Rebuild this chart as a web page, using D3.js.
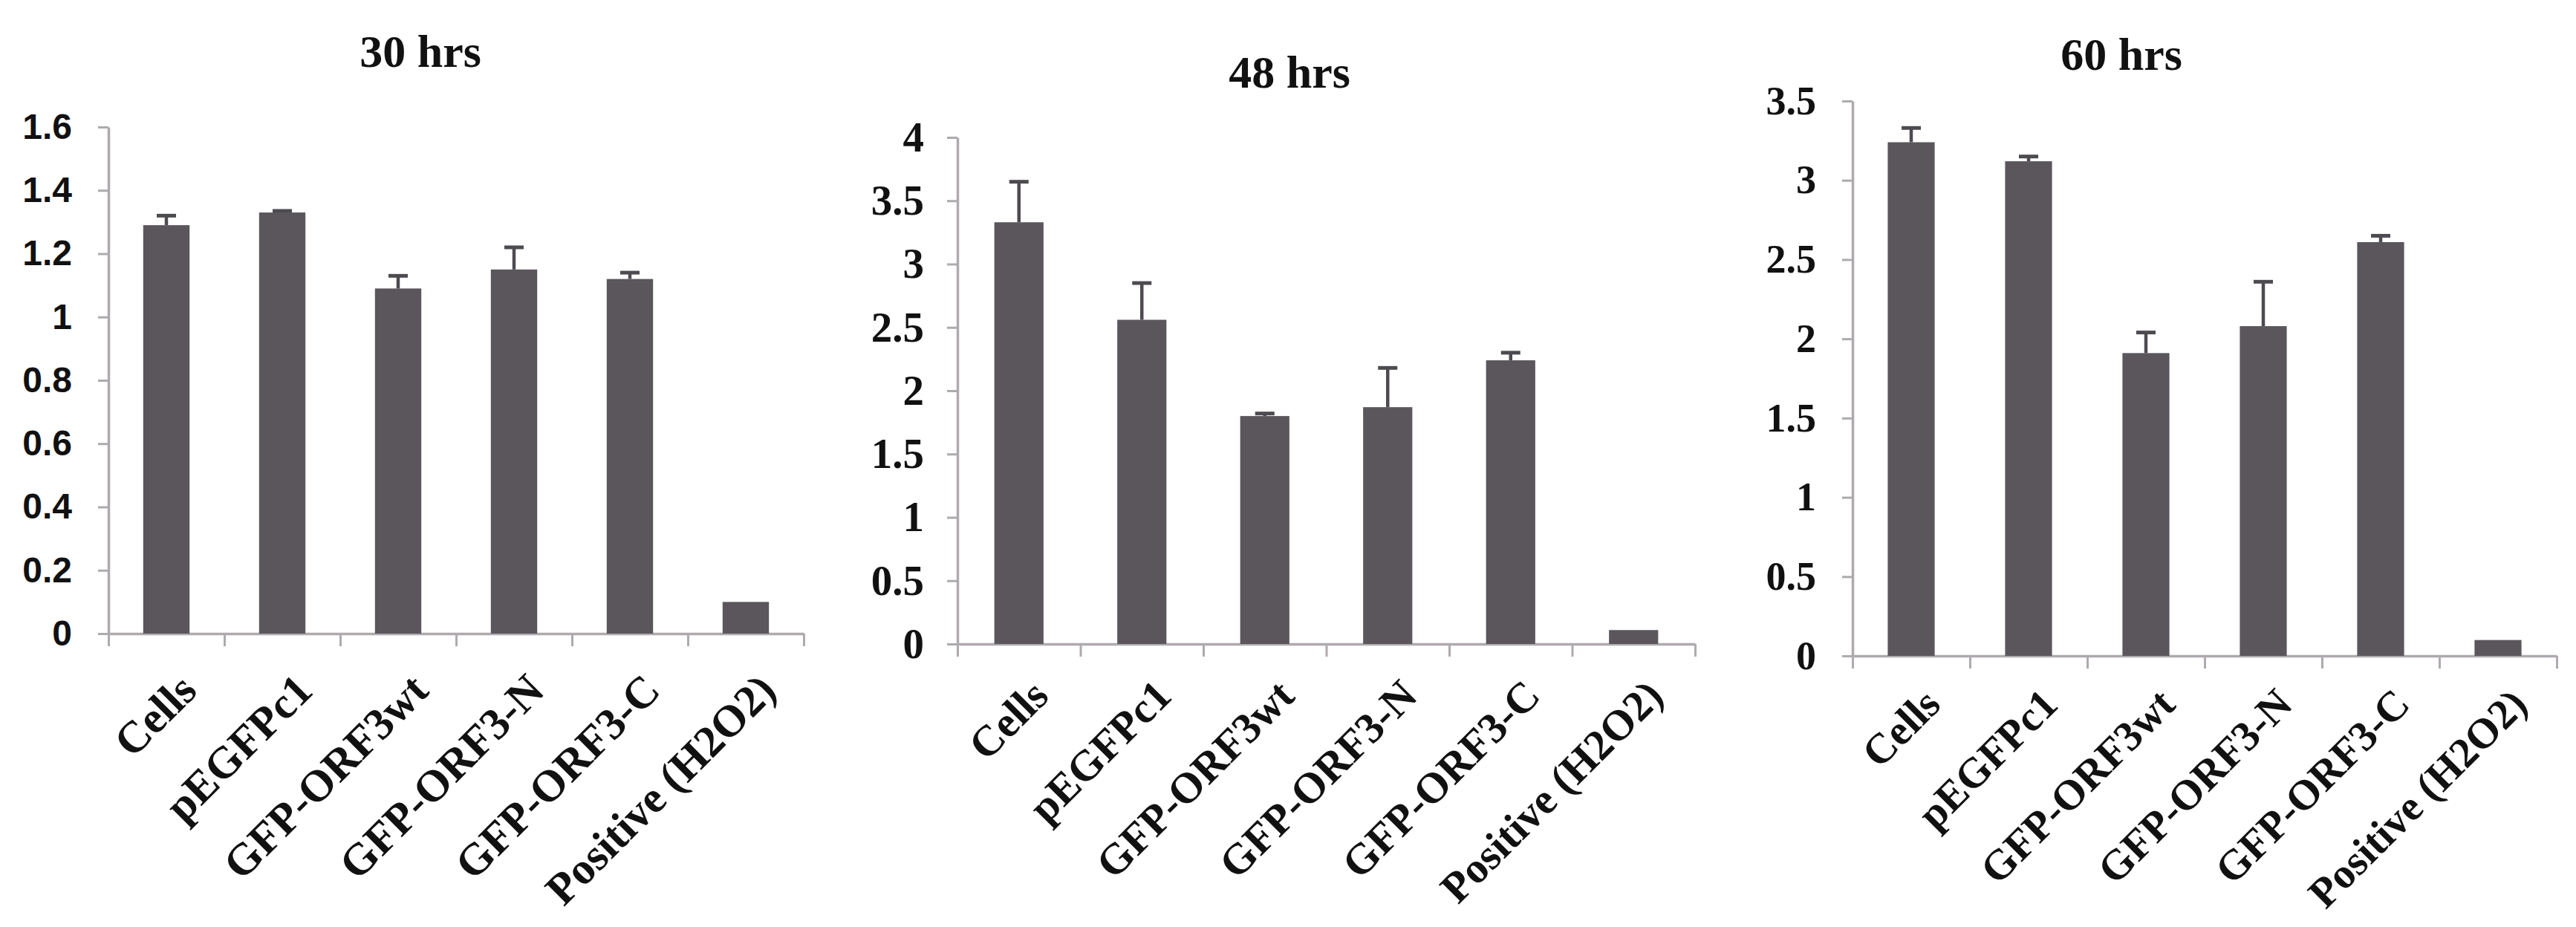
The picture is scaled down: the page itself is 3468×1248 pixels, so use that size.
<!DOCTYPE html>
<html>
<head>
<meta charset="utf-8">
<script src="https://cdn.jsdelivr.net/npm/d3@7"></script>
<style>
  html, body { margin: 0; padding: 0; background: #fff; }
  svg { display: block; }
</style>
</head>
<body>
<script>
// ---------------- DATA ----------------
const categories = ["Cells", "pEGFPc1", "GFP-ORF3wt", "GFP-ORF3-N", "GFP-ORF3-C", "Positive (H2O2)"];
const titles = ["30 hrs", "48 hrs", "60 hrs"];

const values30 = [1.29, 1.33, 1.09, 1.15, 1.12, 0.10];
const errors30 = [0.03, 0.005, 0.04, 0.07, 0.02, 0];
const ticks30  = [0, 0.2, 0.4, 0.6, 0.8, 1, 1.2, 1.4, 1.6];

const values48 = [3.33, 2.56, 1.80, 1.87, 2.24, 0.11];
const errors48 = [0.32, 0.29, 0.02, 0.31, 0.06, 0];
const ticks48  = [0, 0.5, 1, 1.5, 2, 2.5, 3, 3.5, 4];

const values60 = [3.24, 3.12, 1.91, 2.08, 2.61, 0.10];
const errors60 = [0.09, 0.03, 0.13, 0.28, 0.04, 0];
const ticks60  = [0, 0.5, 1, 1.5, 2, 2.5, 3, 3.5];

// ---------------- LAYOUT ----------------
const panels = [
  { title: titles[0], values: values30, errors: errors30, ticks: ticks30,
    x0: 146, x1: 1082, yTop: 171, yBase: 853, titleX: 566, titleY: 68,
    tickFont: "'Liberation Sans', Arial, sans-serif", tickSize: 48, tickPad: 35,
    catSize: 60, catOff: 50 },
  { title: titles[1], values: values48, errors: errors48, ticks: ticks48,
    x0: 1289, x1: 2282, yTop: 185, yBase: 867, titleX: 1736, titleY: 96,
    tickFont: "'Liberation Serif', 'Times New Roman', serif", tickSize: 57, tickPad: 31,
    catSize: 58, catOff: 44 },
  { title: titles[2], values: values60, errors: errors60, ticks: ticks60,
    x0: 2494, x1: 3442, yTop: 136, yBase: 883, titleX: 2856, titleY: 72,
    tickFont: "'Liberation Serif', 'Times New Roman', serif", tickSize: 54, tickPad: 35,
    catSize: 57, catOff: 40 }
];

const W = 3468, H = 1248;
const axisColor = "#aeaaae";
const barColor = "#5a565c";
const errColor = "#4e4b50";
const serif = "'Liberation Serif', 'Times New Roman', serif";

const svg = d3.select("body").append("svg")
  .attr("width", W).attr("height", H)
  .style("font-family", serif);

svg.append("rect").attr("width", W).attr("height", H).attr("fill", "#fff");

panels.forEach(p => {
  const g = svg.append("g");
  const yMax = p.ticks[p.ticks.length - 1];

  const x = d3.scaleBand().domain(categories).range([p.x0, p.x1])
    .paddingInner(0.6).paddingOuter(0.3);
  const y = d3.scaleLinear().domain([0, yMax]).range([p.yBase, p.yTop]);
  const xb = d3.scaleLinear().domain([0, categories.length]).range([p.x0, p.x1]);

  // Y axis
  const yAxis = g.append("g")
    .attr("transform", `translate(${p.x0},0)`)
    .call(d3.axisLeft(y).tickValues(p.ticks).tickSize(14).tickSizeOuter(0)
      .tickPadding(p.tickPad).tickFormat(d3.format("~g")));
  yAxis.select(".domain").attr("stroke", axisColor).attr("stroke-width", 3.5);
  yAxis.selectAll(".tick line").attr("stroke", axisColor).attr("stroke-width", 3);
  yAxis.selectAll(".tick text")
    .attr("fill", "#111")
    .style("font-family", p.tickFont)
    .style("font-weight", "bold")
    .style("font-size", p.tickSize + "px");

  // X axis (ticks at category boundaries)
  const xAxis = g.append("g")
    .attr("transform", `translate(0,${p.yBase})`)
    .call(d3.axisBottom(xb).tickValues(d3.range(categories.length + 1))
      .tickSize(17).tickSizeOuter(0).tickFormat(""));
  xAxis.select(".domain").attr("stroke", axisColor).attr("stroke-width", 3.5);
  xAxis.selectAll(".tick line").attr("stroke", axisColor).attr("stroke-width", 3);

  // Bars
  g.selectAll("rect.bar").data(p.values).enter().append("rect")
    .attr("class", "bar")
    .attr("x", (d, i) => x(categories[i]))
    .attr("width", x.bandwidth())
    .attr("y", d => y(d))
    .attr("height", d => y(0) - y(d))
    .attr("fill", barColor);

  // Error bars (upper only)
  const capW = 26;
  const eb = g.selectAll("g.err").data(p.values).enter().append("g")
    .attr("class", "err")
    .filter((d, i) => p.errors[i] > 0);
  eb.append("line")
    .attr("x1", (d, i) => x(categories[i]) + x.bandwidth() / 2)
    .attr("x2", (d, i) => x(categories[i]) + x.bandwidth() / 2)
    .attr("y1", d => y(d))
    .attr("y2", (d, i) => y(d + p.errors[i]))
    .attr("stroke", errColor).attr("stroke-width", 4.5);
  eb.append("line")
    .attr("x1", (d, i) => x(categories[i]) + x.bandwidth() / 2 - capW / 2)
    .attr("x2", (d, i) => x(categories[i]) + x.bandwidth() / 2 + capW / 2)
    .attr("y1", (d, i) => y(d + p.errors[i]))
    .attr("y2", (d, i) => y(d + p.errors[i]))
    .attr("stroke", errColor).attr("stroke-width", 5);

  // Category labels, rotated
  g.selectAll("text.cat").data(categories).enter().append("text")
    .attr("class", "cat")
    .attr("transform", d => `translate(${x(d) + x.bandwidth() / 2 + 14},${p.yBase + p.catOff}) rotate(-45)`)
    .attr("text-anchor", "end")
    .attr("dy", "0.7em")
    .attr("fill", "#111")
    .style("font-family", serif)
    .style("font-weight", "bold")
    .style("font-size", p.catSize + "px")
    .text(d => d);

  // Title
  g.append("text")
    .attr("x", p.titleX).attr("y", p.titleY)
    .attr("dy", "0.35em")
    .attr("text-anchor", "middle")
    .attr("fill", "#111")
    .style("font-family", serif)
    .style("font-weight", "bold")
    .style("font-size", "62px")
    .text(p.title);
});
</script>
</body>
</html>
